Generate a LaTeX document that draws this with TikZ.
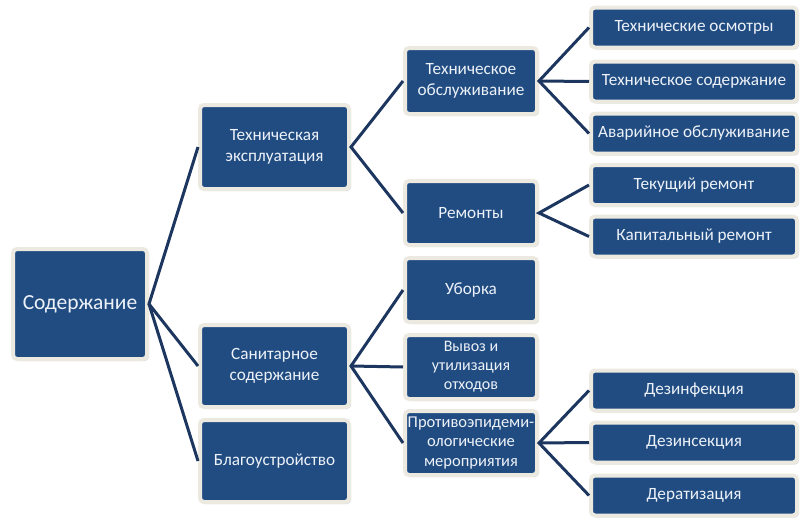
\documentclass[tikz,border=0pt]{standalone}
\usepackage{fontspec}
\setmainfont{Carlito}
\usetikzlibrary{shadows}
\definecolor{boxblue}{HTML}{214C82}
\definecolor{boxrim}{HTML}{ECEAE0}
\definecolor{linkblue}{HTML}{1C365F}
\definecolor{txt}{HTML}{EDF2F8}
\tikzset{
  box/.style={rectangle, rounded corners=4pt, fill=boxblue, draw=boxrim, line width=4pt,
    text=txt, align=center, font=\fontsize{17.2}{21.5}\selectfont, inner sep=1pt,
    drop shadow={opacity=0.28, shadow xshift=2pt, shadow yshift=-2pt}},
  link/.style={draw=linkblue, line width=3pt}
}
\begin{document}
\begin{tikzpicture}[x=1pt,y=-1pt]
\useasboundingbox (0,0) rectangle (807,530);
% level 0
\node[box, minimum width=134pt, minimum height=110pt, font=\fontsize{21.5}{25}\selectfont] (root) at (80,304) {Содержание};
% level 1
\node[box, minimum width=149pt, minimum height=84pt] (te) at (274.5,147) {Техническая\\эксплуатация};
\node[box, minimum width=149pt, minimum height=82pt] (san) at (274.5,366) {Санитарное\\содержание};
\node[box, minimum width=149pt, minimum height=82pt] (bl) at (274.5,461) {Благоустройство};
% level 2
\node[box, minimum width=132pt, minimum height=66pt] (to) at (471,81) {Техническое\\обслуживание};
\node[box, minimum width=132pt, minimum height=64pt] (rem) at (471,213) {Ремонты};
\node[box, minimum width=132pt, minimum height=64pt] (ub) at (471,290) {Уборка};
\node[box, minimum width=132pt, minimum height=64pt, font=\fontsize{16}{19}\selectfont] (vy) at (471,367) {Вывоз и\\утилизация\\отходов};
\node[box, minimum width=132pt, minimum height=64pt, font=\fontsize{16.5}{19.5}\selectfont] (pr) at (471,443) {Противоэпидеми-\\ологические\\мероприятия};
% level 3
\node[box, minimum width=206pt, minimum height=40pt] (r1) at (694,27.5) {Технические осмотры};
\node[box, minimum width=206pt, minimum height=40pt] (r2) at (694,81.5) {Техническое содержание};
\node[box, minimum width=206pt, minimum height=40pt] (r3) at (694,133.5) {Аварийное обслуживание};
\node[box, minimum width=206pt, minimum height=40pt] (r4) at (694,185) {Текущий ремонт};
\node[box, minimum width=206pt, minimum height=40pt] (r5) at (694,236.5) {Капитальный ремонт};
\node[box, minimum width=206pt, minimum height=40pt] (d1) at (694,390.5) {Дезинфекция};
\node[box, minimum width=206pt, minimum height=40pt] (d2) at (694,442.5) {Дезинсекция};
\node[box, minimum width=206pt, minimum height=40pt] (d3) at (694,495.5) {Дератизация};
% connectors
\draw[link] (te.west) -- (root.east) -- (san.west);
\draw[link] (root.east) -- (bl.west);
\draw[link] (to.west) -- (te.east) -- (rem.west);
\draw[link] (r1.west) -- (to.east) -- (r3.west);
\draw[link] (to.east) -- (r2.west);
\draw[link] (r4.west) -- (rem.east) -- (r5.west);
\draw[link] (ub.west) -- (san.east) -- (pr.west);
\draw[link] (san.east) -- (vy.west);
\draw[link] (d1.west) -- (pr.east) -- (d3.west);
\draw[link] (pr.east) -- (d2.west);
\end{tikzpicture}
\end{document}
